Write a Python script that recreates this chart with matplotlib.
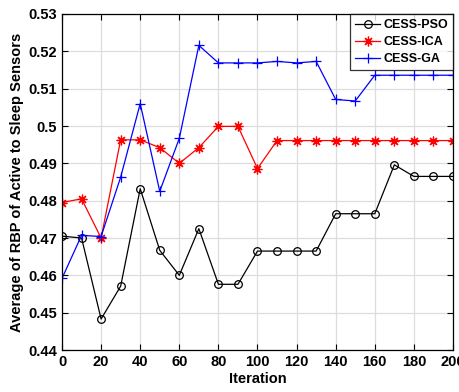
import numpy as np
import matplotlib.pyplot as plt

plt.rcParams['font.family'] = ['Liberation Sans', 'DejaVu Sans']
plt.rcParams['font.weight'] = 'bold'

iterations = [0, 10, 20, 30, 40, 50, 60, 70, 80, 90, 100,
              110, 120, 130, 140, 150, 160, 170, 180, 190, 200]

pso = [0.4705, 0.4700, 0.4483, 0.4571, 0.4832, 0.4667, 0.4600, 0.4725, 0.4576, 0.4576, 0.4665,
       0.4665, 0.4665, 0.4665, 0.4765, 0.4765, 0.4765, 0.4896, 0.4865, 0.4865, 0.4865]
ica = [0.4795, 0.4805, 0.4700, 0.4963, 0.4963, 0.4942, 0.4900, 0.4942, 0.4999, 0.4999, 0.4886,
       0.4961, 0.4961, 0.4961, 0.4961, 0.4961, 0.4961, 0.4961, 0.4961, 0.4961, 0.4961]
ga = [0.4592, 0.4707, 0.4704, 0.4863, 0.5060, 0.4825, 0.4967, 0.5216, 0.5169, 0.5169, 0.5169,
      0.5173, 0.5169, 0.5173, 0.5071, 0.5067, 0.5136, 0.5136, 0.5136, 0.5136, 0.5136]

fig = plt.figure(figsize=(4.59, 3.92), dpi=100)
ax = fig.add_axes([0.1351, 0.1071, 0.8518, 0.8572])

ax.plot(iterations, pso, color='black', marker='o', markersize=5.5, markerfacecolor='none',
        markeredgewidth=0.9, linewidth=0.9, label='CESS-PSO')
# 8-spoke asterisk marker
ax.plot(iterations, ica, color='red', marker=(8, 2, 0), markersize=7, markeredgewidth=0.9,
        linewidth=0.9, label='CESS-ICA')
ax.plot(iterations, ga, color='blue', marker='+', markersize=7, markeredgewidth=0.9,
        linewidth=0.9, label='CESS-GA')

ax.set_xlim(0, 200)
ax.set_ylim(0.44, 0.53)
ax.set_xticks(np.arange(0, 201, 20))
ax.set_yticks(np.arange(0.44, 0.531, 0.01))
ax.set_yticklabels(['0.44', '0.45', '0.46', '0.47', '0.48', '0.49', '0.5', '0.51', '0.52', '0.53'])
ax.grid(True, color='#dddddd', linewidth=0.9)
ax.set_axisbelow(True)
ax.tick_params(direction='in', top=True, right=True, labelsize=10.5, length=4)
for s in ax.spines.values():
    s.set_linewidth(0.9)

ax.set_xlabel('Iteration', fontsize=10.5, fontweight='bold', labelpad=2)
ax.set_ylabel('Average of RBP of Active to Sleep Sensors', fontsize=10.5, fontweight='bold', labelpad=3)

leg = ax.legend(loc='upper right', fontsize=9, frameon=True, fancybox=False,
                edgecolor='black', borderaxespad=0, handlelength=2.0,
                borderpad=0.4, labelspacing=0.4, handletextpad=0.25)
leg.get_frame().set_linewidth(0.9)

fig.savefig('out.png', dpi=100)
